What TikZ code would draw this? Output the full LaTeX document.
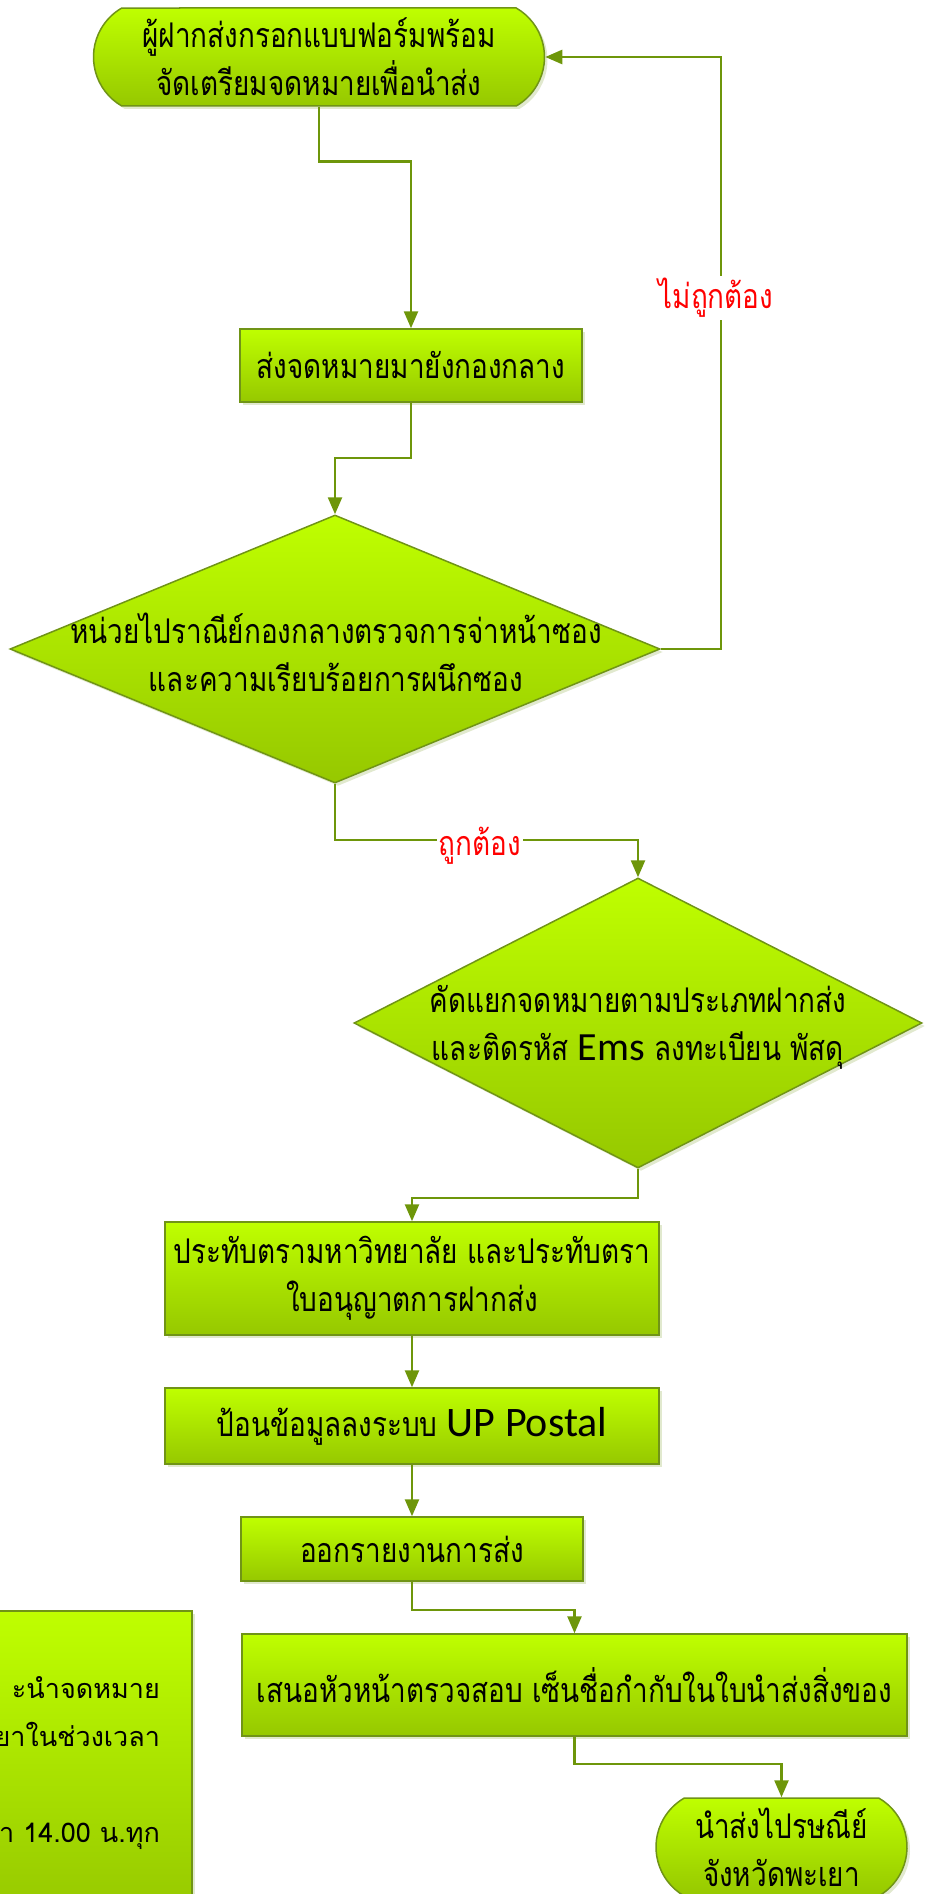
\documentclass[tikz,border=0pt]{standalone}
\usepackage{fontspec}
\usepackage{tikz}
\usetikzlibrary{shapes.geometric,shapes.misc,arrows.meta,shadows}

\newfontfamily\thaifont[Script=Thai, FakeStretch=0.82]{Loma}
\newfontfamily\notefont[Script=Thai]{Loma}
\newfontfamily\calfont{Carlito}

\definecolor{limetop}{RGB}{191,255,0}
\definecolor{limebot}{RGB}{150,200,0}
\definecolor{olivebd}{RGB}{112,148,22}
\definecolor{flowline}{RGB}{110,150,10}

\begin{document}
\begin{tikzpicture}[
  x=1pt, y=-1pt,
  every node/.style={font=\thaifont\fontsize{34}{48}\selectfont},
  shapebase/.style={draw=olivebd, line width=1.5pt, top color=limetop, bottom color=limebot,
    drop shadow={shadow xshift=3pt, shadow yshift=-3pt, opacity=0.35, fill=olivebd!60},
    inner sep=0pt, align=center},
  term/.style={shapebase, rounded rectangle, rounded rectangle arc length=120},
  block/.style={shapebase, rectangle},
  choice/.style={shapebase, diamond},
  answer/.style={text=red, fill=white, inner sep=2pt},
  arrow/.style={-{Triangle[length=17pt,width=14pt]}, draw=flowline, line width=2.5pt}
]
\useasboundingbox (0,0) rectangle (924,1894);

% Start
\node[term, minimum width=451pt, minimum height=98pt] (start) at (319,57)
  {ผู้ฝากส่งกรอกแบบฟอร์มพร้อม\\จัดเตรียมจดหมายเพื่อนำส่ง};

% Central office
\node[block, minimum width=342pt, minimum height=73pt] (send) at (411,365.5)
  {ส่งจดหมายมายังกองกลาง};
\node[choice, minimum width=650pt, minimum height=268pt] (check) at (335,649) {};
\node[align=center] (checktext) at (336,652)
  {หน่วยไปราณีย์กองกลางตรวจการจ่าหน้าซอง\\และความเรียบร้อยการผนึกซอง};
\node[choice, minimum width=568pt, minimum height=290pt] (sort) at (638,1023) {};
\node[align=center] (sorttext) at (638,1027)
  {คัดแยกจดหมายตามประเภทฝากส่ง\\และติดรหัส {\calfont\fontsize{40}{48}\selectfont Ems} ลงทะเบียน พัสดุ};

% Processing
\node[block, minimum width=494pt, minimum height=113pt] (stamp) at (412,1278.5)
  {ประทับตรามหาวิทยาลัย และประทับตรา\\ใบอนุญาตการฝากส่ง};
\node[block, minimum width=494pt, minimum height=76pt] (key) at (412,1426)
  {ป้อนข้อมูลลงระบบ {\calfont\fontsize{42}{48}\selectfont UP Postal}};
\node[block, minimum width=342pt, minimum height=64pt] (report) at (412,1549)
  {ออกรายงานการส่ง};
\node[block, minimum width=665pt, minimum height=102pt] (approve) at (574.5,1685)
  {เสนอหัวหน้าตรวจสอบ เซ็นชื่อกำกับในใบนำส่งสิ่งของ};

% End
\node[term, minimum width=251pt, minimum height=98pt] (post) at (781.5,1847)
  {นำส่งไปรษณีย์\\จังหวัดพะเยา};

% Note
\node[block, align=right, text width=328pt, inner xsep=32pt, minimum height=304pt,
  font=\notefont\fontsize{27}{48}\selectfont] (note) at (-4,1763)
  {ะนำจดหมาย\\ยาในช่วงเวลา\\\mbox{}\\า 14.00 น.ทุก};

% Arrows
\draw[arrow] (start.south) -- ++(0,55) -| (send.north);
\draw[arrow] (send.south) -- ++(0,55) -| (check.north);
\draw[arrow] (check.east) -- ++(60,0) |- (start.east);
\draw[arrow] (check.south) -- ++(0,56) -| (sort.north);
\draw[arrow] (sort.south) -- ++(0,29) -| (stamp.north);
\draw[arrow] (stamp) -- (key);
\draw[arrow] (key) -- (report);
\draw[arrow] (report.south) -- ++(0,28) -| (approve.north);
\draw[arrow] (approve.south) -- ++(0,27) -| (post.north);

% Answers
\node[answer] (wrong) at (716,298) {ไม่ถูกต้อง};
\node[answer] (right) at (480,846) {ถูกต้อง};

\end{tikzpicture}
\end{document}
